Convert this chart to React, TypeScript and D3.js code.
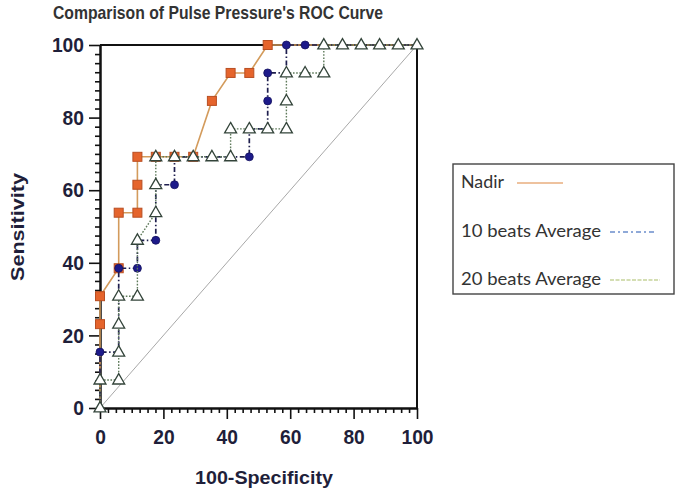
import React, { useEffect, useRef } from 'react';
import * as d3 from 'd3';

// ROC points (100-Specificity, Sensitivity)
const nadirX = [0, 0, 0, 5.9, 5.9, 11.8, 11.8, 11.8, 17.6, 23.5, 29.4, 35.3, 41.2, 47.1, 52.9, 100];
const nadirY = [0, 23.1, 30.8, 38.5, 53.8, 53.8, 61.5, 69.2, 69.2, 69.2, 69.2, 84.6, 92.3, 92.3, 100, 100];

const beats10X = [0, 0, 5.9, 5.9, 11.8, 11.8, 17.6, 17.6, 23.5, 23.5, 47.1, 47.1, 52.9, 52.9, 52.9, 58.8, 58.8, 64.7, 100];
const beats10Y = [0, 15.4, 15.4, 38.5, 38.5, 46.2, 46.2, 61.5, 61.5, 69.2, 69.2, 76.9, 76.9, 84.6, 92.3, 92.3, 100, 100, 100];
const beats10Marks = [false, true, false, true, true, false, true, false, true, false, true, false, false, true, true, false, true, true, false];

const beats20X = [0, 0, 5.9, 5.9, 5.9, 5.9, 11.8, 11.8, 17.6, 17.6, 17.6, 23.5, 29.4, 35.3, 41.2, 41.2, 47.1, 52.9, 58.8, 58.8, 58.8, 64.7, 70.6, 70.6, 76.5, 82.4, 88.2, 94.1, 100];
const beats20Y = [0, 7.7, 7.7, 15.4, 23.1, 30.8, 30.8, 46.2, 53.8, 61.5, 69.2, 69.2, 69.2, 69.2, 69.2, 76.9, 76.9, 76.9, 76.9, 84.6, 92.3, 92.3, 92.3, 100, 100, 100, 100, 100, 100];

const tickValues = [0, 20, 40, 60, 80, 100];
const legendLabels = ['Nadir', '10 beats Average', '20 beats Average'];

const App = () => {
  const svgRef = useRef<SVGSVGElement>(null);

  useEffect(() => {
    const svg = d3.select(svgRef.current);
    svg.selectAll('*').remove();

    const x = d3.scaleLinear().domain([0, 100]).range([100, 417]);
    const y = d3.scaleLinear().domain([0, 100]).range([408, 45]);
    const minor = d3.range(0, 100.1, 2.5).filter(v => v % 20 !== 0);

    // title
    svg.append('text')
      .attr('x', 53).attr('y', 19)
      .attr('font-family', 'Liberation Sans, Arial, sans-serif')
      .attr('font-weight', 'bold').attr('font-size', 19)
      .attr('fill', '#333')
      .attr('textLength', 330).attr('lengthAdjust', 'spacingAndGlyphs')
      .text("Comparison of Pulse Pressure's ROC Curve");

    // diagonal
    svg.append('line')
      .attr('x1', x(0)).attr('y1', y(0)).attr('x2', x(100)).attr('y2', y(100))
      .attr('stroke', '#a8a8a8').attr('stroke-width', 1);

    // frame top + right
    svg.append('path')
      .attr('d', `M${x(0)},${y(100)}H${x(100)}V${y(0)}`)
      .attr('fill', 'none').attr('stroke', '#111').attr('stroke-width', 2);

    // axes
    const styleAxis = (g: any) => {
      g.select('.domain').attr('stroke', '#111').attr('stroke-width', 2);
      g.selectAll('.tick line').attr('stroke', '#111').attr('stroke-width', 1.6);
    };
    svg.append('g').attr('transform', `translate(0,${y(0)})`)
      .call(d3.axisBottom(x).tickValues(minor).tickSize(5).tickFormat(() => '').tickSizeOuter(0))
      .call(styleAxis);
    svg.append('g').attr('transform', `translate(${x(0)},0)`)
      .call(d3.axisLeft(y).tickValues(minor).tickSize(5).tickFormat(() => '').tickSizeOuter(0))
      .call(styleAxis);

    const xAxis = svg.append('g').attr('transform', `translate(0,${y(0)})`)
      .call(d3.axisBottom(x).tickValues(tickValues).tickSize(11).tickSizeOuter(0).tickPadding(10))
      .call(styleAxis);
    const yAxis = svg.append('g').attr('transform', `translate(${x(0)},0)`)
      .call(d3.axisLeft(y).tickValues(tickValues).tickSize(11).tickSizeOuter(0).tickPadding(5))
      .call(styleAxis);
    [xAxis, yAxis].forEach(g => {
      g.selectAll('.tick text')
        .attr('font-family', 'Liberation Sans, Arial, sans-serif')
        .attr('font-weight', 'bold').attr('font-size', 21)
        .attr('fill', '#1f1f3a')
        .attr('textLength', (d: any) => String(d).length * 10.7)
        .attr('lengthAdjust', 'spacingAndGlyphs');
    });

    // axis titles
    svg.append('text')
      .attr('x', 264).attr('y', 484).attr('text-anchor', 'middle')
      .attr('font-family', 'Liberation Sans, Arial, sans-serif')
      .attr('font-weight', 'bold').attr('font-size', 19)
      .attr('fill', '#1f1f3a')
      .attr('textLength', 138).attr('lengthAdjust', 'spacingAndGlyphs')
      .text('100-Specificity');
    svg.append('text')
      .attr('transform', 'translate(24,227) rotate(-90)')
      .attr('text-anchor', 'middle')
      .attr('font-family', 'Liberation Sans, Arial, sans-serif')
      .attr('font-weight', 'bold').attr('font-size', 18)
      .attr('fill', '#1f1f3a')
      .attr('textLength', 108).attr('lengthAdjust', 'spacingAndGlyphs')
      .text('Sensitivity');

    const line = d3.line<number>()
      .x(i => x(i[0] as any))
      .y(i => y(i[1] as any));
    const pts = (xs: number[], ys: number[]) => xs.map((v, i) => [v, ys[i]] as any);

    // Nadir
    svg.append('path').datum(pts(nadirX, nadirY))
      .attr('d', line as any).attr('fill', 'none')
      .attr('stroke', '#d39b5c').attr('stroke-width', 1.6);
    svg.append('g').selectAll('rect').data(pts(nadirX, nadirY).slice(1, -1))
      .enter().append('rect')
      .attr('x', (d: any) => x(d[0]) - 4.5).attr('y', (d: any) => y(d[1]) - 4.5)
      .attr('width', 9).attr('height', 9)
      .attr('fill', '#e5642c').attr('stroke', '#b84e22').attr('stroke-width', 1);

    // 10 beats
    svg.append('path').datum(pts(beats10X, beats10Y))
      .attr('d', line as any).attr('fill', 'none')
      .attr('stroke', '#1e1e4e').attr('stroke-width', 1.7)
      .attr('stroke-dasharray', '5,2.5,1.5,2.5');
    svg.append('g').selectAll('circle').data(pts(beats10X, beats10Y).filter((_: any, i: number) => beats10Marks[i]))
      .enter().append('circle')
      .attr('cx', (d: any) => x(d[0])).attr('cy', (d: any) => y(d[1]))
      .attr('r', 4).attr('fill', '#1d1a8a').attr('stroke', '#15135e').attr('stroke-width', 0.8);

    // 20 beats
    svg.append('path').datum(pts(beats20X, beats20Y))
      .attr('d', line as any).attr('fill', 'none')
      .attr('stroke', '#5e7a5a').attr('stroke-width', 1.4)
      .attr('stroke-dasharray', '1.6,1.6');
    const tri = d3.symbol().type(d3.symbolTriangle).size(62);
    svg.append('g').selectAll('path').data(pts(beats20X, beats20Y))
      .enter().append('path')
      .attr('d', tri as any)
      .attr('transform', (d: any) => `translate(${x(d[0])},${y(d[1]) + 0.5})`)
      .attr('fill', '#fff').attr('stroke', '#33443a').attr('stroke-width', 1.3);

    // legend
    const lg = svg.append('g');
    lg.append('rect').attr('x', 453).attr('y', 164).attr('width', 221).attr('height', 130)
      .attr('fill', 'none').attr('stroke', '#444').attr('stroke-width', 1.4);
    const rows = [
      { y: 188, w: 43, x1: 517, x2: 563, color: '#e8ae7e', dash: '' },
      { y: 237, w: 140, x1: 610, x2: 655, color: '#6b8dcc', dash: '5,3,2,3' },
      { y: 285, w: 140, x1: 610, x2: 660, color: '#c6d39a', dash: '4,1.5' },
    ];
    rows.forEach((r, i) => {
      lg.append('text').attr('x', 461).attr('y', r.y)
        .attr('font-family', 'Lato, Open Sans, sans-serif').attr('font-size', 17)
        .attr('fill', '#333')
        .attr('textLength', r.w).attr('lengthAdjust', 'spacingAndGlyphs')
        .text(legendLabels[i]);
      lg.append('line').attr('x1', r.x1).attr('x2', r.x2).attr('y1', r.y - 5).attr('y2', r.y - 5)
        .attr('stroke', r.color).attr('stroke-width', 1.6)
        .attr('stroke-dasharray', r.dash || null);
    });
  }, []);

  return (
    <svg ref={svgRef} width={685} height={493}
      style={{ position: 'absolute', left: 0, top: 0, background: '#fff' }} />
  );
};

export default App;
